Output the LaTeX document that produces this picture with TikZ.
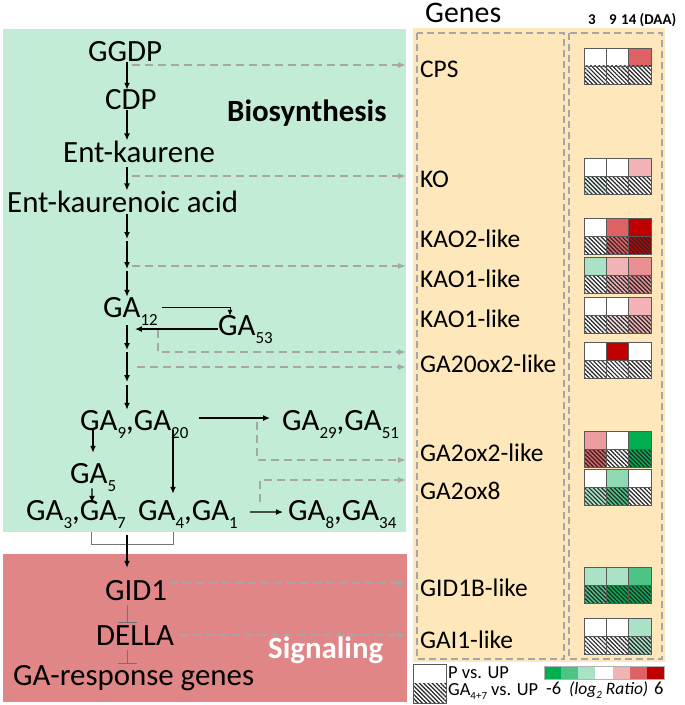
\documentclass[tikz,border=0pt]{standalone}
\usepackage{fontspec}
\setmainfont{Carlito}
\usetikzlibrary{arrows.meta,patterns.meta}

\definecolor{bioGreen}{RGB}{195,236,215}
\definecolor{sigRed}{RGB}{225,134,134}
\definecolor{geneYellow}{RGB}{253,231,187}
\definecolor{linkGray}{RGB}{166,166,166}
\definecolor{hDG}{HTML}{00B050}
\definecolor{hMG}{HTML}{4DC486}
\definecolor{hLG}{HTML}{A9E2C5}
\definecolor{hLP}{HTML}{F2B3B7}
\definecolor{hMR}{HTML}{DE6165}
\definecolor{hDR}{HTML}{C00000}

\newcommand{\gsub}[1]{\raisebox{-8bp}{\fontsize{17}{17}\selectfont #1}}
\newcommand{\lsub}[1]{\raisebox{-4bp}{\fontsize{11}{11}\selectfont #1}}

% one gene: top row P vs. UP, bottom row (hatched) GA4+7 vs. UP
\newcommand{\heatrow}[7]{%
  \foreach \ct/\cb [count=\i from 0] in {#2/#5,#3/#6,#4/#7}{%
    \fill[\ct] (584+22.33*\i,#1) rectangle ++(22.33,18);
    \fill[\cb] (584+22.33*\i,#1+18) rectangle ++(22.33,18.5);
    \fill[hatch] (584+22.33*\i,#1+18) rectangle ++(22.33,18.5);
    \draw[cellline] (584+22.33*\i,#1) rectangle ++(22.33,36.5);
    \draw[cellline] (584+22.33*\i,#1+18) -- ++(22.33,0);
  }}

\tikzset{
  txt/.style={anchor=base west, inner sep=0pt, font=\fontsize{31}{33}\selectfont},
  genetxt/.style={anchor=base west, inner sep=0pt, font=\fontsize{25.5}{27}\selectfont},
  legtxt/.style={anchor=base west, inner sep=0pt, font=\fontsize{18.5}{20}\selectfont},
  arr/.style={-{Latex[length=7bp,width=6bp]}, line width=1.3bp},
  link/.style={-{Latex[length=8bp,width=6bp]}, linkGray, line width=1.4bp, dash pattern=on 8bp off 5bp, shorten >=14bp},
  inhib/.style={-{Bar[width=19bp,line width=1bp]}, black!55, line width=1bp},
  hatch/.style={pattern={Lines[angle=-45,distance=3bp,line width=1.2bp]}, pattern color=black!85},
  cellline/.style={black!65, line width=0.8bp},
  boxdash/.style={black!35, line width=1.2bp, dash pattern=on 7bp off 4bp}
}

\begin{document}
\begin{tikzpicture}[x=1bp, y=-1bp]
\useasboundingbox (0,0) rectangle (685,705);

% background boxes
\fill[bioGreen] (3,29) rectangle (406,532); %biosynthesis
\fill[sigRed] (3,554) rectangle (407,702); %signaling
\fill[geneYellow] (413,28) rectangle (665,662); %genes
\draw[boxdash] (417,33) rectangle (564,659);
\draw[boxdash] (569,33) rectangle (662,659);

% pathway
\coordinate (col) at (127,0);
\coordinate (c5) at (93,0);
\coordinate (c4) at (173,0);
\node[txt] (ggdp) at (88,62) {GGDP};
\node[txt] (cdp) at (105,110) {CDP};
\node[txt] (entk) at (63,162) {Ent-kaurene};
\node[txt] (enta) at (7,212) {Ent-kaurenoic acid};
\node[txt] (ga12) at (103,317) {GA\gsub{12}};
\node[txt] (ga53) at (218,335) {GA\gsub{53}};
\node[txt] (ga920) at (80,430) {GA\gsub{9},GA\gsub{20}};
\node[txt] (ga2951) at (282,430) {GA\gsub{29},GA\gsub{51}};
\node[txt] (ga5) at (70,483) {GA\gsub{5}};
\node[txt] (ga37) at (26,520) {GA\gsub{3},GA\gsub{7}};
\node[txt] (ga41) at (138,520) {GA\gsub{4},GA\gsub{1}};
\node[txt] (ga834) at (288,520) {GA\gsub{8},GA\gsub{34}};
\node[txt] (gid1) at (105,600) {GID1};
\node[txt] (della) at (96,645) {DELLA};
\node[txt] (garesp) at (13,685) {GA-response genes};
\node[txt, font=\fontsize{31}{33}\selectfont\bfseries] (bio) at (227,122) {Biosynthesis};
\node[txt, font=\fontsize{31}{33}\selectfont\bfseries, white] (sig) at (268,658) {Signaling};

% steps without names
\coordinate (k1) at (127,239);
\coordinate (k2) at (127,269);
\coordinate (k3) at (127,350);
\coordinate (k4) at (127,382);
\coordinate (brk) at (127,535);

\draw[arr] (col |- ggdp.south) -- (col |- cdp.north);
\draw[arr] (col |- cdp.south) -- (col |- entk.north);
\draw[arr, shorten <=5bp] (col |- entk.south) -- (col |- enta.north);
\draw[arr, shorten <=2bp] (col |- enta.south) -- (k1);
\draw[arr, shorten <=2bp] (k1) -- (k2);
\draw[arr, shorten <=2bp] (k2) -- (col |- ga12.north);
\draw[arr] (col |- ga12.south) -- (k3);
\draw[arr, shorten <=2bp] (k3) -- (k4);
\draw[arr, shorten <=3bp] (k4) -- (col |- ga920.north);
\draw[-{Latex[length=6bp,width=5bp]}, line width=0.9bp] ([xshift=4bp,yshift=4bp]ga12.east) -| ([xshift=12bp,yshift=-1bp]ga53.north west); % GA12 to GA53
\draw[arr, line width=1.6bp] (ga53.west) -- ([xshift=-23bp]ga12.east |- ga53.west); % GA53 back
\draw[arr] ([xshift=10bp,yshift=6bp]ga920.east) -- ([xshift=-12bp,yshift=6bp]ga2951.west);
\draw[arr] ([yshift=8bp]c5 |- ga920.south) -- ([yshift=10bp]c5 |- ga5.north);
\draw[arr] ([xshift=22bp,yshift=3bp]ga5.south west) -- ([xshift=66bp,yshift=-3bp]ga37.north west);
\draw[arr] ([yshift=8bp]c4 |- ga920.south) -- ([yshift=6bp]c4 |- ga41.north);
\draw[arr] ([xshift=12bp,yshift=2bp]ga41.east) -- ([xshift=-5bp,yshift=2bp]ga834.west);
\draw[black!55, line width=1bp] ([xshift=65bp,yshift=-4bp]ga37.south west) -- ++(0,12) -| ([xshift=35bp,yshift=-4bp]ga41.south west); % bracket
\draw[arr, shorten >=12bp] (brk) -- (col |- gid1.north);
\draw[inhib, shorten <=5bp] (col |- gid1.south) -- ([yshift=2bp]col |- della.north);
\draw[inhib, shorten <=5bp] (col |- della.south) -- ([yshift=1bp]col |- garesp.north);

% genes
\node[txt, font=\fontsize{30}{32}\selectfont] (genes) at (425,23) {Genes};
\node[anchor=base west, inner sep=0pt, font=\fontsize{15}{15}\selectfont\bfseries] (d3) at (588,25) {3};
\node[anchor=base west, inner sep=0pt, font=\fontsize{15}{15}\selectfont\bfseries] (d9) at (609,25) {9};
\node[anchor=base west, inner sep=0pt, font=\fontsize{15}{15}\selectfont\bfseries] (d14) at (621,25) {14 (DAA)};
\node[genetxt] (cps) at (420,78) {CPS};
\node[genetxt] (ko) at (420,187) {KO};
\node[genetxt] (kao2) at (420,247) {KAO2-like};
\node[genetxt] (kao1a) at (420,287) {KAO1-like};
\node[genetxt] (kao1b) at (420,327) {KAO1-like};
\node[genetxt] (ga20ox) at (420,372) {GA20ox2-like};
\node[genetxt] (ga2ox2) at (420,461) {GA2ox2-like};
\node[genetxt] (ga2ox8) at (420,499) {GA2ox8};
\node[genetxt] (gid1b) at (420,596) {GID1B-like};
\node[genetxt] (gai1) at (420,648) {GAI1-like};

% links to the genes
\coordinate (l1) at (132,65);
\coordinate (l2) at (132,176);
\coordinate (l3) at (132,266);
\coordinate (l4) at (158,330);
\coordinate (m4) at (158,352);
\coordinate (l5) at (137,367);
\coordinate (l6) at (257,422);
\coordinate (m6) at (257,460);
\coordinate (l7) at (260,502);
\coordinate (m7) at (260,480);
\coordinate (l8) at (170,583);
\coordinate (l9) at (180,635);
\draw[link] (l1) -- (l1 -| cps.west);
\draw[link] (l2) -- (l2 -| ko.west);
\draw[link] (l3) -- (l3 -| kao1a.west);
\draw[link] (l4) -- (m4) -- (m4 -| ga20ox.west);
\draw[link] (l5) -- (l5 -| ga20ox.west);
\draw[link] (l6) -- (m6) -- (m6 -| ga2ox2.west);
\draw[link] (l7) -- (m7) -- (m7 -| ga2ox8.west);
\draw[link] (l8) -- (l8 -| gid1b.west);
\draw[link] (l9) -- (l9 -| gai1.west);

% heat map
\heatrow{48}{white}{white}{hMR}{white}{white}{white}
\heatrow{158}{white}{white}{hLP}{hLG!35}{white}{white}
\heatrow{218}{white}{hMR}{hDR}{white}{hMR}{hDR}
\heatrow{257}{hLG}{hLP}{hLP!55!hMR}{white}{hLP}{hLP!55!hMR}
\heatrow{297}{white}{white}{hLP}{white}{hLP!40}{hLP}
\heatrow{342}{white}{hDR}{white}{white}{white}{white}
\heatrow{431}{hLP!70!hMR}{white}{hDG}{hMR}{white}{hDG}
\heatrow{469}{white}{hLG!70!hMG}{white}{hLG}{hMG}{white}
\heatrow{567}{hLG}{hLG}{hMG}{hMG}{hDG}{hDG}
\heatrow{618}{white}{white}{hLG}{white}{white}{hLG}

% legend
\fill[white] (413,664) rectangle (446,683);
\fill[white] (413,683) rectangle (446,703);
\fill[hatch] (413,683) rectangle (446,703);
\draw[cellline] (413,664) rectangle (446,703);
\node[legtxt] (lp) at (448,678) {P vs. UP};
\node[legtxt] (lga) at (448,695) {GA\lsub{4+7} vs. UP};
\foreach \c [count=\i from 0] in {hDG,hMG,hLG,white,hLP,hMR,hDR}
  \fill[\c] (544+17.14*\i,666) rectangle ++(17.14,13);
\draw[black!30, line width=0.6bp] (544,666) rectangle (664,679);
\node[legtxt] (lmin) at (546,694) {-6};
\node[legtxt, font=\fontsize{17.5}{19}\selectfont\itshape] (lratio) at (569,694) {(log\lsub{2} Ratio)};
\node[legtxt] (lmax) at (654,694) {6};
\end{tikzpicture}
\end{document}
